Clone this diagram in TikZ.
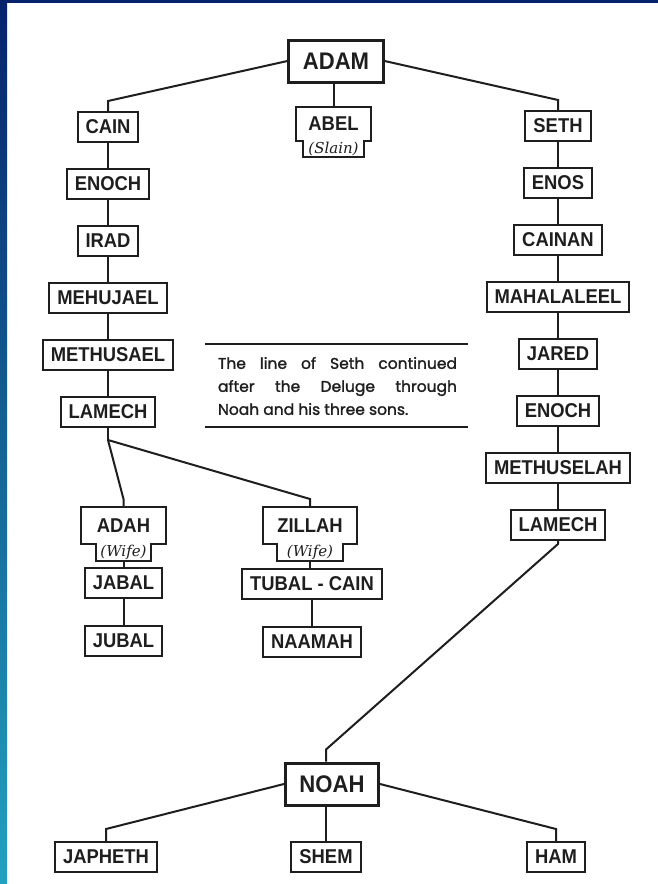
\documentclass[tikz,border=0pt]{standalone}
\usepackage{fontspec}
\setmainfont{Liberation Sans}[FakeStretch=0.92]
\newfontfamily\notefont{DejaVu Serif}
\newfontfamily\linefont{Poppins}[FakeBold=1.4]
\usepackage{xcolor}

\definecolor{ink}{HTML}{1E1E1E}
\definecolor{framenavy}{HTML}{06226C}
\definecolor{frameblue}{HTML}{0036A2}
\definecolor{frameteal}{HTML}{22A2BF}

% box with a narrower part hanging below it
\newcommand{\notchbox}[2]{%
  \draw[ink, line width=2pt]
    (#1.north west) -- (#1.north east) -- (#1.south east)
    -- (#1.south east -| #2.east) -- (#2.south east)
    -- (#2.south west) -- (#2.west |- #1.south) -- (#1.south west) -- cycle;}

\begin{document}
\begin{tikzpicture}[x=1pt, y=-1pt, node distance=57pt,
    namebox/.style={draw=ink, line width=2pt, text=ink,
        font=\bfseries\fontsize{20}{20}\selectfont,
        minimum height=30pt, inner xsep=8pt},
    bigbox/.style={namebox, line width=3pt,
        font=\bfseries\fontsize{24}{24}\selectfont,
        minimum height=42pt, inner xsep=14pt},
    toppart/.style={namebox, draw=none, minimum height=33pt},
    notepart/.style={text=ink, font=\notefont\itshape\fontsize{15}{15}\selectfont,
        inner xsep=4pt, inner ysep=1pt, minimum height=16pt, anchor=north},
    link/.style={draw=ink, line width=2pt},
    rule/.style={draw=ink, line width=2.6pt}]

    \fill[white] (0,0) rectangle (658,884);
    \fill[framenavy] (0,0) rectangle (658,3);
    \shade[top color=framenavy, middle color=frameblue, bottom color=frameteal]
        (0,0) rectangle (7,884);

    \node[bigbox] (adam) at (336,61) {ADAM};

    % line of Cain
    \node[namebox] (cain) at (108,127) {CAIN};
    \node[namebox, below of=cain] (enoch1) {ENOCH};
    \node[namebox, below of=enoch1] (irad) {IRAD};
    \node[namebox, below of=irad] (mehujael) {MEHUJAEL};
    \node[namebox, below of=mehujael] (methusael) {METHUSAEL};
    \node[namebox, below of=methusael] (lamech1) {LAMECH};

    % Abel
    \node[toppart, minimum width=73pt, minimum height=32pt] (abel) at (333.5,124) {ABEL};
    \node[notepart, minimum width=60pt] (abelnote) at (abel.south) {(Slain)};
    \notchbox{abel}{abelnote}

    % line of Seth
    \node[namebox] (seth) at (558,126) {SETH};
    \node[namebox, below of=seth] (enos) {ENOS};
    \node[namebox, below of=enos] (cainan) {CAINAN};
    \node[namebox, below of=cainan] (mahalaleel) {MAHALALEEL};
    \node[namebox, below of=mahalaleel] (jared) {JARED};
    \node[namebox, below of=jared] (enoch2) {ENOCH};
    \node[namebox, below of=enoch2] (methuselah) {METHUSELAH};
    \node[namebox, below of=methuselah] (lamech2) {LAMECH};

    % wives of Lamech
    \node[toppart, minimum width=83pt, minimum height=35pt] (adah) at (123.5,525.5) {ADAH};
    \node[notepart, minimum width=52pt] (adahnote) at (adah.south) {(Wife)};
    \notchbox{adah}{adahnote}
    \node[namebox] (jabal) at (123.5,583) {JABAL};
    \node[namebox, below of=jabal, node distance=58pt] (jubal) {JUBAL};

    \node[toppart, minimum width=92pt, minimum height=35pt] (zillah) at (310,525.5) {ZILLAH};
    \node[notepart, minimum width=65pt] (zillahnote) at (zillah.south) {(Wife)};
    \notchbox{zillah}{zillahnote}
    \node[namebox] (tubalcain) at (312,583.5) {TUBAL - CAIN};
    \node[namebox, below of=tubalcain, node distance=58pt] (naamah) {NAAMAH};

    % note
    \node[text=ink, text width=239pt, align=justify, inner sep=0pt,
        font=\linefont\fontsize{15.5}{23}\selectfont] (sethnote) at (337.5,386)
        {The line of Seth continued\linebreak after the Deluge through\linebreak Noah and his three sons.};
    \draw[rule] (205,344) -- (468,344);
    \draw[rule] (205,427) -- (468,427);

    % Noah and sons
    \node[bigbox] (noah) at (332,784) {NOAH};
    \node[namebox] (japheth) at (106,857) {JAPHETH};
    \node[namebox] (shem) at (326,857) {SHEM};
    \node[namebox] (ham) at (556,857) {HAM};

    % connectors
    \draw[link] (adam.west) -- ([yshift=10pt]cain.north) -- (cain.north);
    \draw[link] (adam.east) -- ([yshift=10pt]seth.north) -- (seth.north);
    \draw[link] (adam.south -| abel.north) -- (abel.north);

    \foreach \a/\b in {cain/enoch1, enoch1/irad, irad/mehujael, mehujael/methusael,
        methusael/lamech1, seth/enos, enos/cainan, cainan/mahalaleel,
        mahalaleel/jared, jared/enoch2, enoch2/methuselah, methuselah/lamech2,
        jabal/jubal, tubalcain/naamah}
        \draw[link] (\a) -- (\b);
    \draw[link] (adahnote.south) -- (jabal.north);
    \draw[link] (zillahnote.south) -- (zillahnote.south |- tubalcain.north);

    \coordinate (fork) at ([yshift=-12pt]lamech1.south);
    \draw[link] (lamech1.south) -- (fork);
    \draw[link] (fork) -- ([yshift=8pt]adah.north) -- (adah.north);
    \draw[link] (fork) -- ([yshift=8pt]zillah.north) -- (zillah.north);

    \coordinate (noahtop) at (shem.north |- noah.north);
    \draw[link] (lamech2.south) -- ([yshift=-3pt]lamech2.south)
        -- ([yshift=12pt]noahtop) -- (noahtop);
    \draw[link] (noah.west) -- ([yshift=12pt]japheth.north) -- (japheth.north);
    \draw[link] (noah.east) -- ([yshift=12pt]ham.north) -- (ham.north);
    \draw[link] (noah.south -| shem.north) -- (shem.north);
\end{tikzpicture}
\end{document}
